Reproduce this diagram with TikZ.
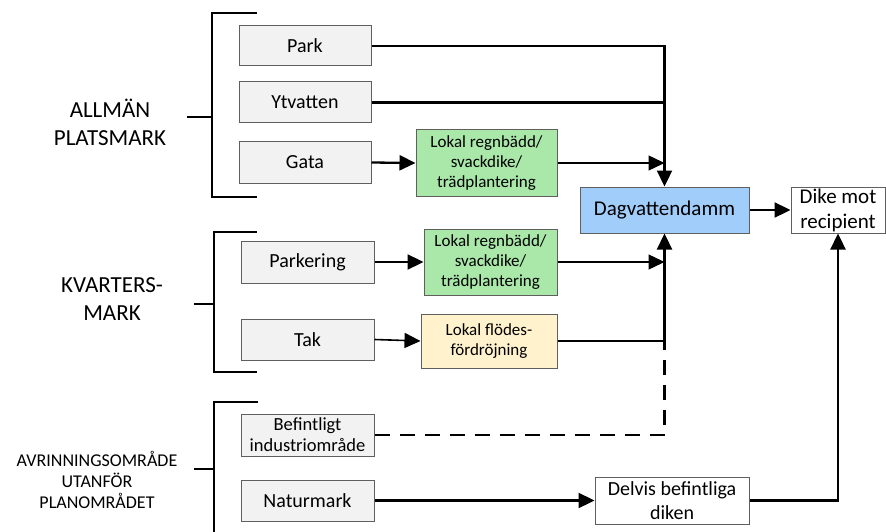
\documentclass[tikz,border=0pt]{standalone}
\usepackage{fontspec}
\setmainfont{Carlito}
\usepackage{xcolor}
\usetikzlibrary{positioning}
\usetikzlibrary{arrows.meta}
\definecolor{boxgray}{RGB}{242,242,242}
\definecolor{boxgreen}{RGB}{169,232,169}
\definecolor{boxcream}{RGB}{255,242,204}
\definecolor{boxblue}{RGB}{160,205,250}
\definecolor{edgegray}{RGB}{95,95,95}
\tikzset{
  src/.style={draw=edgegray,fill=boxgray,line width=1pt,inner sep=0pt,
    minimum width=133pt,minimum height=41pt,align=center,
    font=\fontsize{20}{24}\selectfont},
  lid/.style={draw=edgegray,fill=boxgreen,line width=1pt,inner sep=0pt,
    minimum height=66pt,align=center,font=\fontsize{17}{20.4}\selectfont},
  sink/.style={draw=edgegray,line width=1pt,inner sep=0pt,align=center,
    font=\fontsize{21}{25}\selectfont},
  zone/.style={align=center,font=\fontsize{23}{28}\selectfont},
  flow/.style={line width=2.3pt,-{Triangle[length=16pt,width=15pt]}},
  link/.style={line width=2.3pt},
  brace/.style={line width=2.3pt},
}
\begin{document}
\begin{tikzpicture}[x=1pt,y=-1pt]
  \useasboundingbox (0,0) rectangle (886,532);
  % zoner
  \node[zone] (allman) at (110,122) {ALLMÄN\\PLATSMARK};
  \node[zone] (kvarter) at (112,299) {KVARTERS-\\MARK};
  \node[zone,font=\fontsize{18}{21}\selectfont] (avrinn) at (97,480)
    {AVRINNINGSOMRÅDE\\UTANFÖR\\PLANOMRÅDET};
  % klamrar
  \draw[brace] (257,13) -| (212,197) -- (257,197);
  \draw[brace] (187,117) -- (212,117);
  \draw[brace] (257,232) -| (214,372) -- (257,372);
  \draw[brace] (194,304) -- (214,304);
  \draw[brace] (258,402) -| (214,532);
  \draw[brace] (194,469) -- (214,469);
  % ytor
  \node[src,minimum width=132pt,minimum height=40pt] (park) at (305,46) {Park};
  \node[src,minimum width=132pt] (ytv) at (305,102.5) {Ytvatten};
  \node[src,minimum width=132pt] (gata) at (305,162.5) {Gata};
  \node[src,minimum height=42pt] (parkering) at (307.5,262) {Parkering};
  \node[src] (tak) at (307.5,339.5) {Tak};
  \node[src,minimum height=42pt,font=\fontsize{18.5}{21}\selectfont] (bef)
    at (307.5,435) {Befintligt\\industriområde};
  \node[src] (natur) at (307.5,500.5) {Naturmark};
  % lokala åtgärder
  \node[lid,minimum width=141pt] (lgata) at (486.5,163)
    {Lokal regnbädd/\\svackdike/\\trädplantering};
  \node[lid,minimum width=133pt] (lpark) at (490.5,262)
    {Lokal regnbädd/\\svackdike/\\trädplantering};
  \node[lid,fill=boxcream,minimum width=136pt,minimum height=54pt] (ftak)
    at (489,341) {Lokal flödes-\\fördröjning};
  % mottagare
  \node[sink,fill=boxblue,minimum width=169pt,minimum height=46pt] (damm)
    at (664.5,210) {Dagvattendamm};
  \node[sink,fill=white,minimum width=94pt,minimum height=46pt] (dike)
    at (838,210) {Dike mot\\recipient};
  \node[sink,fill=white,minimum width=154pt,minimum height=47pt,
    font=\fontsize{20}{24.5}\selectfont] (delvis) at (672,500.5)
    {Delvis befintliga\\diken};
  % flöden
  \draw[flow] (park.east) -| (damm.north);
  \draw[link] (ytv.east) -- (ytv.east -| damm.north);
  \draw[flow] (gata.east) -- (lgata.west);
  \draw[flow,line width=1.3pt] (lgata.east) -- (lgata.east -| damm.north);
  \draw[flow] (parkering.east) -- (lpark.west);
  \draw[flow,line width=1.3pt] (lpark.east) -- (lpark.east -| damm.south);
  \draw[flow,line width=1.6pt] (tak.east) -- (ftak.west);
  \draw[flow] (ftak.east) -| (damm.south);
  \draw[link,dash pattern=on 15pt off 10pt] (bef.east) -| (ftak.east -| damm.south);
  \draw[flow] (natur.east) -- (delvis.west);
  \draw[flow] (damm.east) -- (dike.west);
  \draw[flow] (delvis.east) -| (dike.south);
\end{tikzpicture}
\end{document}
